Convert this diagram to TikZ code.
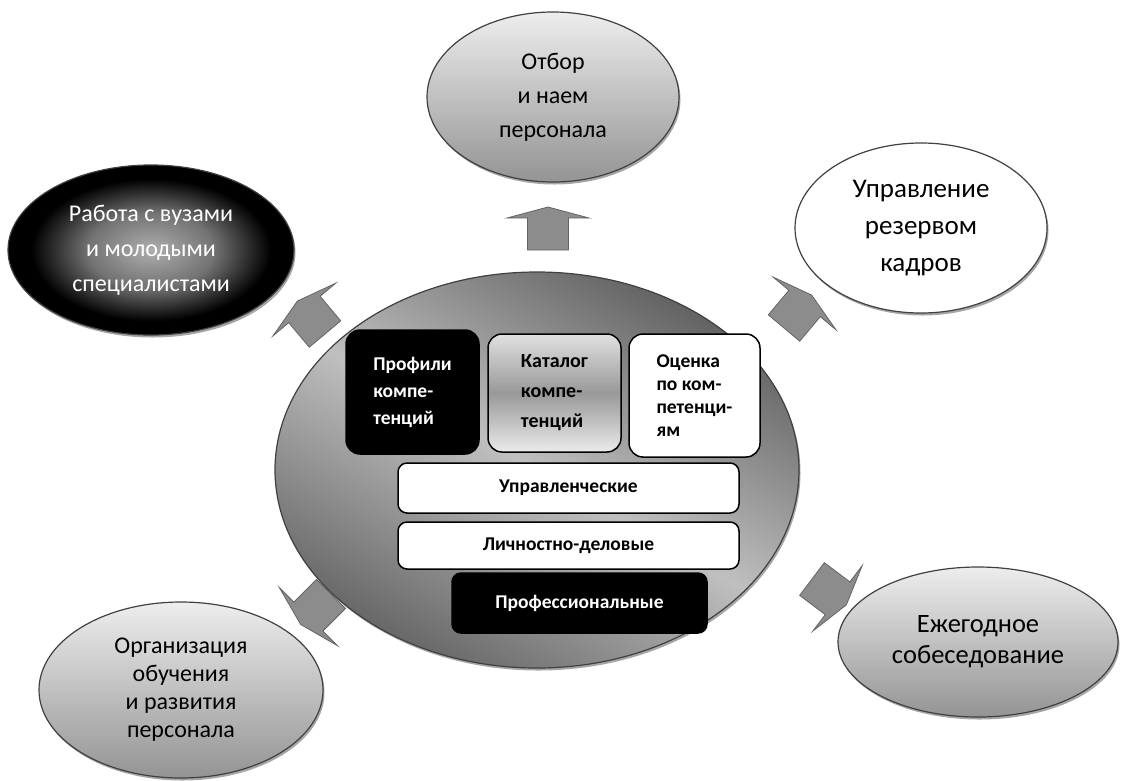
\documentclass[tikz,border=0pt]{standalone}
\usepackage{fontspec}
\setmainfont{Carlito}
\usetikzlibrary{shapes.geometric, shadows, positioning}
\definecolor{rimgray}{RGB}{64,64,64}
\definecolor{arrowgray}{RGB}{140,140,140}
\definecolor{arrowedge}{RGB}{100,100,100}
\pgfdeclareradialshading{darkglow}{\pgfpoint{0bp}{0bp}}{color(0bp)=(black!32); color(11bp)=(black!55); color(21bp)=(black); color(25bp)=(black); color(50bp)=(black)}

\begin{document}
\begin{tikzpicture}[x=1pt, y=-1pt,
  every node/.style={inner sep=0pt},
  bubble/.style={ellipse, draw=rimgray, line width=1.2pt, align=center,
    drop shadow={shadow xshift=1.5pt, shadow yshift=-2.5pt, fill=black!35, opacity=1}},
  greybubble/.style={bubble, top color=black!7, bottom color=black!42},
  card/.style={rounded corners=14pt, draw=black, line width=1.5pt, minimum width=133pt,
    minimum height=124pt, align=left, font=\fontsize{19.5}{27}\selectfont\bfseries},
  bar/.style={rounded corners=9pt, draw=black, line width=1.5pt,
    font=\fontsize{19.5}{24}\selectfont\bfseries},
  pics/blockarrow/.style={code={
    \draw[fill=arrowgray, draw=arrowedge, line width=0.8pt]
      (0,-20.5) -- (32,-20.5) -- (32,-41) -- (43,0) -- (32,41) -- (32,20.5) -- (0,20.5) -- cycle;
  }}
]
  \useasboundingbox (0,0) rectangle (1123,780);

  % central ellipse with the competence blocks
  \node[ellipse, draw=rimgray, line width=1.2pt, minimum width=524pt, minimum height=396pt,
    top color=black!62, bottom color=black!60, middle color=black!25, shading angle=-30,
    drop shadow={shadow xshift=1.5pt, shadow yshift=-2.5pt, fill=black!35, opacity=1}] (core) at (537,470) {};

  \node[card, fill=black, text=white] (profiles) at (412.5,392) {Профили\\компе-\\тенций};
  \node[card, top color=black!12, bottom color=black!8, middle color=black!40, minimum height=118pt,
    font=\fontsize{20}{30}\selectfont\bfseries] (catalog) at (554.5,393) {Каталог\\компе-\\тенций};
  \node[card, fill=white, minimum width=131pt, minimum height=123pt,
    font=\fontsize{19.5}{23}\selectfont\bfseries] (assess) at (694.5,395.5) {Оценка\\по ком-\\петенци-\\ям};

  \node[bar, fill=white, minimum width=341pt, minimum height=50pt] (mgmt) at (568.5,488) {Управленческие};
  \node[bar, fill=white, minimum width=341pt, minimum height=47pt] (pers) at (568.5,545.5) {Личностно-деловые};
  \node[bar, fill=black, text=white, minimum width=255pt, minimum height=60pt] (prof) at (579.5,603) {Профессиональные};

  % outer ellipses
  \node[greybubble, minimum width=252pt, minimum height=170pt, font=\fontsize{24}{34}\selectfont]
    (hire) at (553,97) {Отбор\\и наем\\персонала};
  \node[bubble, shading=darkglow, text=white, minimum width=286pt, minimum height=170pt,
    font=\fontsize{24}{35}\selectfont] (univ) at (151,250) {Работа с вузами\\и молодыми\\специалистами};
  \node[bubble, fill=white, minimum width=252pt, minimum height=170pt, font=\fontsize{27}{37}\selectfont]
    (reserve) at (921,228) {Управление\\резервом\\кадров};
  \node[greybubble, minimum width=280pt, minimum height=150pt, font=\fontsize{26.5}{31}\selectfont]
    (review) at (978,642) {Ежегодное\\собеседование};
  \node[greybubble, minimum width=284pt, minimum height=176pt, font=\fontsize{24}{28}\selectfont]
    (train) at (181,690) {Организация\\обучения\\и развития\\персонала};

  % block arrows
  \pic[rotate=90] at (548,250) {blockarrow};
  \pic[rotate=50] at (784,328) {blockarrow};
  \pic[rotate=130] at (325,334) {blockarrow};
  \pic[rotate=225] at (331,594) {blockarrow};
  \pic[rotate=-37] at (812,579) {blockarrow};
\end{tikzpicture}
\end{document}
